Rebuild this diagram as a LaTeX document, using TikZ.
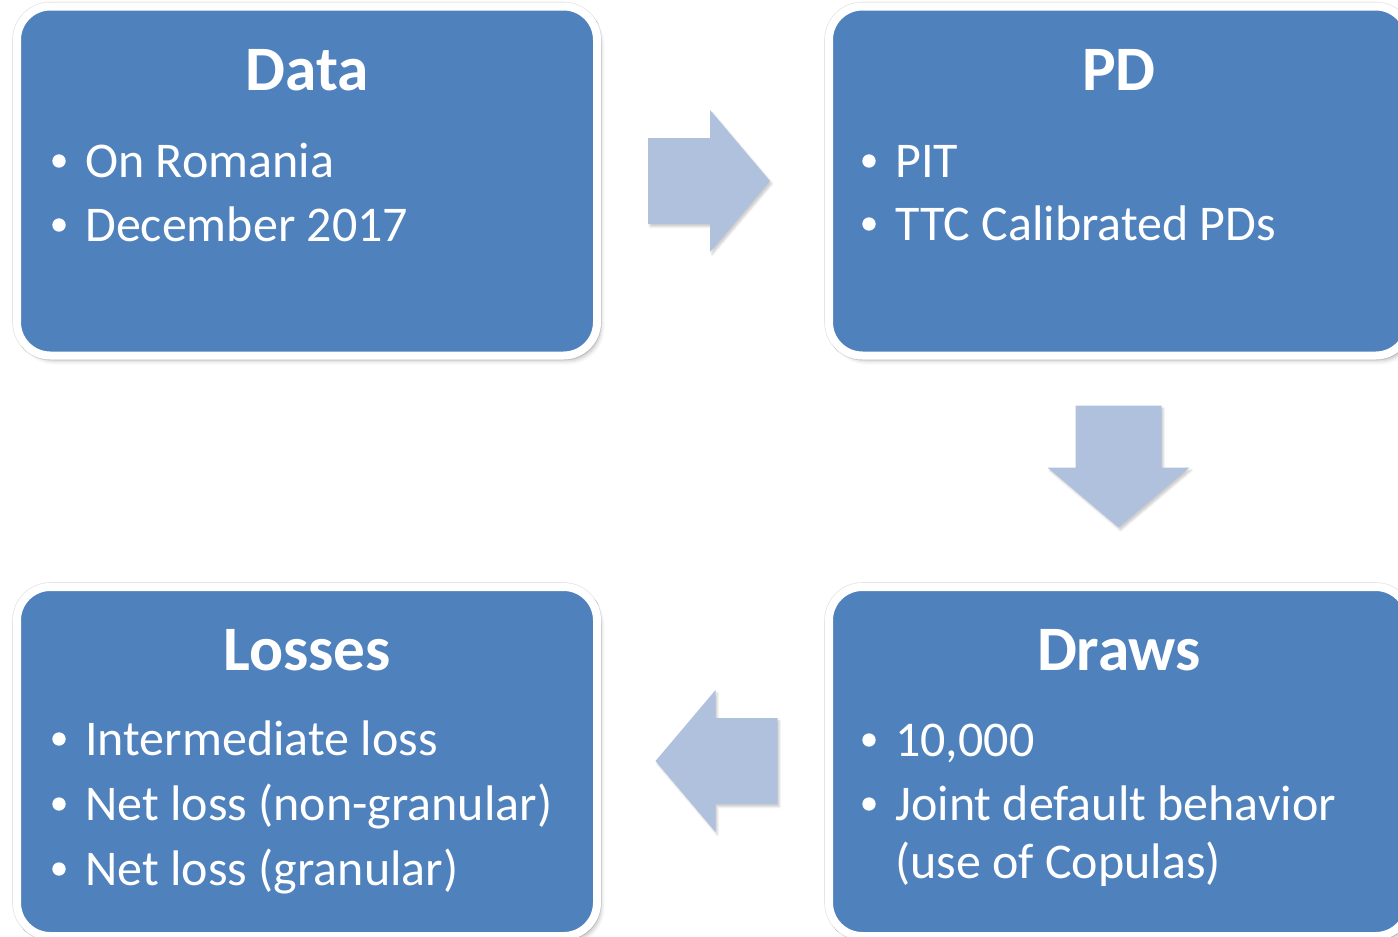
\documentclass[tikz,border=0pt]{standalone}
\usepackage{fontspec}
\setmainfont{Carlito}
\usepackage{xcolor}
\usetikzlibrary{shadows.blur}

\definecolor{boxblue}{HTML}{4F81BD}
\definecolor{arrowblue}{HTML}{AFC1DD}

\tikzset{
    stage/.style={rectangle, rounded corners=25pt, draw=white, line width=6pt,
        fill=boxblue, minimum width=435pt, minimum height=261.75pt, inner sep=0pt,
        preaction={draw=black!10, line width=7.2pt},
        blur shadow={shadow xshift=3pt, shadow yshift=-4pt,
            shadow blur radius=3pt, shadow opacity=25}},
    title/.style={font=\fontsize{47.5}{56}\selectfont\bfseries, text=white,
        anchor=base, inner sep=0pt},
    itemtext/.style={font=\fontsize{37.5}{45}\selectfont, text=white,
        anchor=base west, inner sep=0pt},
    flowarrow/.style={fill=arrowblue,
        blur shadow={shadow xshift=1.5pt, shadow yshift=-2pt,
            shadow blur radius=1.5pt, shadow opacity=20}},
    pics/blockarrow/.style={code={
        \fill[flowarrow] (-61,-43) -- (1,-43) -- (1,-71) -- (61,0) -- (1,71)
            -- (1,43) -- (-61,43) -- cycle;
    }}
}

% bullet item: name, x, baseline y, text
\newcommand{\bitem}[4]{%
    \node[itemtext] (#1) at (#2,#3) {#4};
    \fill[white] ([xshift=-19.5pt,yshift=12pt]#1.base west) circle (5pt);
}

\begin{document}
\begin{tikzpicture}[x=0.75pt, y=-0.75pt]
    \useasboundingbox (0,0) rectangle (1398,936);

    % the four stages
    \node[stage] (data) at (307,181) {};
    \node[stage] (pd) at (1119,181) {};
    \node[stage] (draws) at (1119,761.5) {};
    \node[stage] (losses) at (307,761.5) {};

    % block arrows between stages
    \foreach \x/\y/\a in {709/181/0, 1118.5/466.5/-90, 716.5/761/180} {
        \pic[rotate=\a] at (\x,\y) {blockarrow};
    }

    \node[title] (dataT) at (307,90) {Data};
    \bitem{d1}{85}{177}{On Romania}
    \bitem{d2}{85}{241}{December 2017}

    \node[title] (pdT) at (1119,90) {PD};
    \bitem{p1}{895}{177}{PIT}
    \bitem{p2}{895}{240}{TTC Calibrated PDs}

    \node[title] (drawsT) at (1119,670) {Draws};
    \bitem{w1}{895}{756}{10,000}
    \bitem{w2}{895}{820}{Joint default behavior}
    \node[itemtext] (w2b) at (895,878) {(use of Copulas)};

    \node[title] (lossesT) at (307,670) {Losses};
    \bitem{l1}{85}{755}{Intermediate loss}
    \bitem{l2}{85}{820}{Net loss (non-granular)}
    \bitem{l3}{85}{885}{Net loss (granular)}
\end{tikzpicture}
\end{document}
